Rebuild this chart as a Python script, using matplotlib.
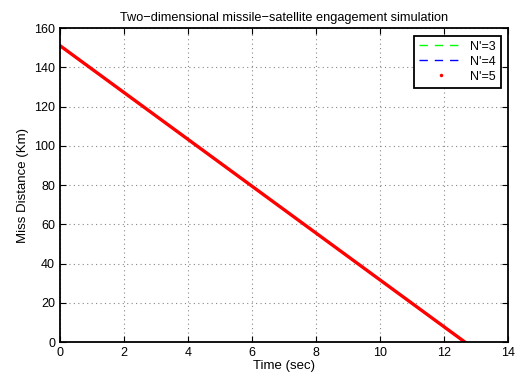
import matplotlib
matplotlib.use('Agg')
import matplotlib.pyplot as plt

plt.rcParams['font.family'] = ['Liberation Sans', 'DejaVu Sans']
plt.rcParams['font.size'] = 9

# end points of the miss distance history (straight line)
time_sec = [0, 12.65]
miss_n3 = [151, 0]
miss_n4 = [151, 0]
miss_n5 = [151, 0]

fig = plt.figure(figsize=(5.2, 3.76), dpi=100)
ax = fig.add_axes([0.1154, 0.0904, 0.8616, 0.8351])

ax.plot(time_sec, miss_n3, color='#00ff00', lw=1, dashes=(6, 5), label="N'=3")
ax.plot(time_sec, miss_n4, color='#0000ff', lw=1, dashes=(6, 5), label="N'=4")
ax.plot(time_sec, miss_n5, '-', color='red', lw=2.4)
ax.plot([], [], '.', color='red', ms=3, label="N'=5")

ax.set_xlim(0, 14)
ax.set_ylim(0, 160)
ax.set_xticks(range(0, 15, 2))
ax.set_yticks(range(0, 161, 20))
ax.grid(True, linestyle=(0, (1, 3)), color='#888888', lw=0.8)
ax.tick_params(direction='in', top=True, right=True, length=4, labelsize=9)
for s in ax.spines.values():
    s.set_linewidth(1.3)

ax.set_xlabel('Time (sec)', fontsize=9.5, labelpad=1)
ax.set_ylabel('Miss Distance (Km)', fontsize=9.5, labelpad=4)
ax.set_title('Two\u2212dimensional missile\u2212satellite engagement simulation', fontsize=9.2, pad=5)

leg = ax.legend(loc='upper right', fancybox=False, framealpha=1, edgecolor='black',
                handlelength=3.6, borderaxespad=0.6, fontsize=9, labelspacing=0.25,
                handletextpad=0.5, borderpad=0.4)
leg.get_frame().set_linewidth(1.3)

fig.savefig('out.png', dpi=100)
